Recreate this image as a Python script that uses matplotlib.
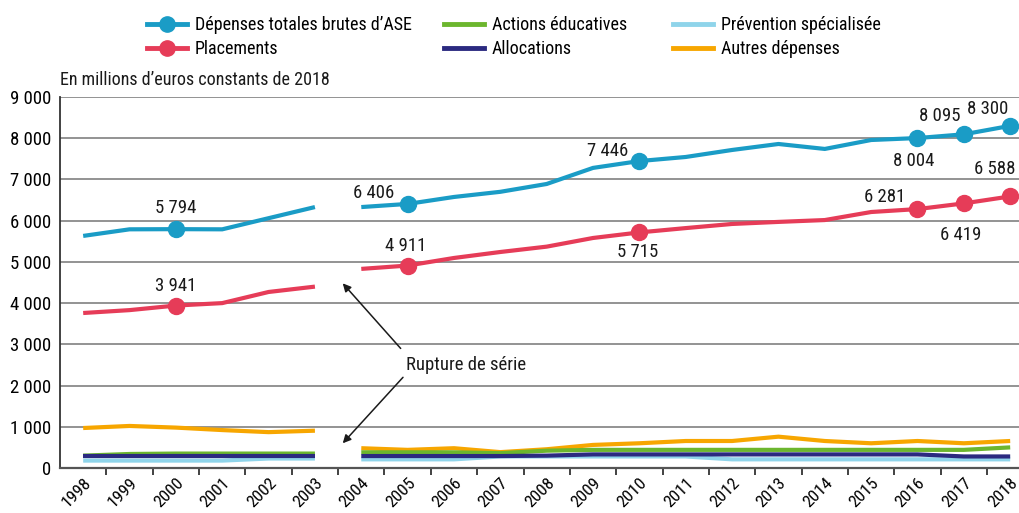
"""
plot.py
Depenses d'ASE 1998-2018, en millions d'euros constants de 2018
"""

import numpy as np
import matplotlib
matplotlib.use('Agg')
import matplotlib.pyplot as plt
from matplotlib.lines import Line2D

plt.rcParams['font.family'] = ['Roboto Condensed', 'DejaVu Sans']

## data
YEARS = [str(y) for y in range(1998, 2019)]

# rupture de serie between 2003 and 2004
TOTAL      = [5630, 5790, 5794, 5790, 6060, 6330, 6330, 6406, 6575, 6700, 6890,
              7280, 7446, 7545, 7715, 7860, 7740, 7957, 8004, 8095, 8300]
PLACEMENTS = [3760, 3830, 3941, 4000, 4270, 4400, 4830, 4911, 5095, 5240, 5370,
              5580, 5715, 5820, 5920, 5970, 6015, 6210, 6281, 6419, 6588]
ACTIONS    = [300, 340, 350, 350, 350, 350, 380, 380, 380, 360, 420,
              440, 440, 440, 440, 440, 440, 440, 440, 440, 500]
ALLOC      = [280, 280, 280, 280, 280, 280, 290, 290, 290, 290, 300,
              330, 330, 330, 330, 330, 330, 330, 330, 280, 280]
PREVENTION = [180, 180, 180, 180, 230, 230, 210, 210, 210, 280, 280,
              280, 280, 280, 210, 210, 210, 210, 210, 210, 210]
AUTRES     = [970, 1020, 980, 920, 870, 905, 480, 440, 480, 385, 455,
              560, 600, 655, 655, 760, 655, 600, 655, 600, 655]

# value labels: (index, dx px, dy px)
LABELS_TOTAL = [(2, 0, 21), (7, -34, 11), (12, -32, 10), (18, -4, -23), (19, -24, 18), (20, -23, 17)]
LABELS_PLAC  = [(2, 0, 20), (7, -2, 20), (12, -2, -20), (18, -33, 12), (19, -3, -32), (20, -15, 27)]

BREAK = 6  # first index after the rupture

C_TOTAL = '#1a9cc6'
C_PLAC  = '#e63c58'
C_ACT   = '#6cb62e'
C_ALLOC = '#2b2a80'
C_PREV  = '#8fd4ea'
C_AUT   = '#f7a600'
FS = 13


def fmt(v):
    return '{:,}'.format(v).replace(',', ' ')


def plot_segments(ax, vals, color, lw, z):
    x = np.arange(len(vals))
    ax.plot(x[:BREAK], vals[:BREAK], color=color, lw=lw, zorder=z, solid_capstyle='butt')
    ax.plot(x[BREAK:], vals[BREAK:], color=color, lw=lw, zorder=z, solid_capstyle='butt')


def plot_test():
    fig = plt.figure(figsize=(10.19, 5.13), dpi=100)
    ax = fig.add_axes([60 / 1019, 45 / 513, 959 / 1019, 371 / 513])

    lw = 3.0
    plot_segments(ax, AUTRES, C_AUT, lw, 3)
    plot_segments(ax, ACTIONS, C_ACT, lw, 3.1)
    plot_segments(ax, PREVENTION, C_PREV, lw, 3.2)
    plot_segments(ax, ALLOC, C_ALLOC, lw, 3.3)
    plot_segments(ax, PLACEMENTS, C_PLAC, lw, 4)
    plot_segments(ax, TOTAL, C_TOTAL, lw, 4)

    # markers + labels
    for series, labels, color in ((TOTAL, LABELS_TOTAL, C_TOTAL), (PLACEMENTS, LABELS_PLAC, C_PLAC)):
        for idx, dx, dy in labels:
            ax.plot(idx, series[idx], 'o', color=color, markersize=11.5, zorder=5)
            ax.annotate(fmt(series[idx]), (idx, series[idx]), xytext=(dx, dy),
                        textcoords='offset pixels', ha='center', va='center',
                        fontsize=FS + 0.5, color='#1a1a1a', zorder=6)

    # rupture de serie
    ax.text(8.25, 2500, 'Rupture de série', ha='center', va='center', fontsize=FS + 0.5, color='#1a1a1a')
    arrow = dict(arrowstyle='-|>', color='#1a1a1a', lw=1.1, mutation_scale=12, shrinkA=0, shrinkB=0)
    ax.annotate('', xy=(5.6, 4480), xytext=(6.85, 2900), arrowprops=arrow)
    ax.annotate('', xy=(5.6, 600), xytext=(6.9, 2200), arrowprops=arrow)

    # axes
    ax.set_xlim(-0.5, 20.19)
    ax.set_ylim(0, 9000)
    ax.set_yticks(range(0, 9001, 1000))
    ax.set_yticklabels([fmt(v) for v in range(0, 9001, 1000)], fontsize=FS + 0.5)
    ax.grid(axis='y', color='#8a8a8a', lw=1.3, zorder=0)
    ax.set_axisbelow(True)
    ax.tick_params(axis='y', length=0, pad=6)

    ax.set_xticks(range(len(YEARS)))
    ax.set_xticklabels(YEARS, rotation=45, ha='right', rotation_mode='anchor', fontsize=FS - 0.5)
    ax.tick_params(axis='x', which='major', length=0, pad=5)
    ax.set_xticks(np.arange(0.5, 20, 1.0), minor=True)
    ax.tick_params(axis='x', which='minor', length=5, width=1.3, color='#333333')

    for side in ('top', 'right'):
        ax.spines[side].set_visible(False)
    ax.spines['left'].set_color('#333333')
    ax.spines['bottom'].set_color('#555555')
    ax.spines['left'].set_linewidth(1.3)
    ax.spines['bottom'].set_linewidth(1.6)

    fig.text(60 / 1019, 1 - 80 / 513, 'En millions d’euros constants de 2018',
             ha='left', va='center', fontsize=FS, color='#1a1a1a')

    # legend: three blocks of two entries
    def h(color, marker=None):
        return Line2D([], [], color=color, lw=3.5, marker=marker, markersize=11)

    blocks = [
        (147, [(h(C_TOTAL, 'o'), 'Dépenses totales brutes d’ASE'), (h(C_PLAC, 'o'), 'Placements')]),
        (444, [(h(C_ACT), 'Actions éducatives'), (h(C_ALLOC), 'Allocations')]),
        (673, [(h(C_PREV), 'Prévention spécialisée'), (h(C_AUT), 'Autres dépenses')]),
    ]
    for xpx, entries in blocks:
        fig.legend([e[0] for e in entries], [e[1] for e in entries],
                   loc='upper left', bbox_to_anchor=(xpx / 1019, 1 - 16 / 513),
                   frameon=False, fontsize=FS, handlelength=2.2, handletextpad=0.45,
                   labelspacing=0.35, borderpad=0, borderaxespad=0)

    fig.savefig('out.png', dpi=100)


if __name__ == '__main__':
    plot_test()
